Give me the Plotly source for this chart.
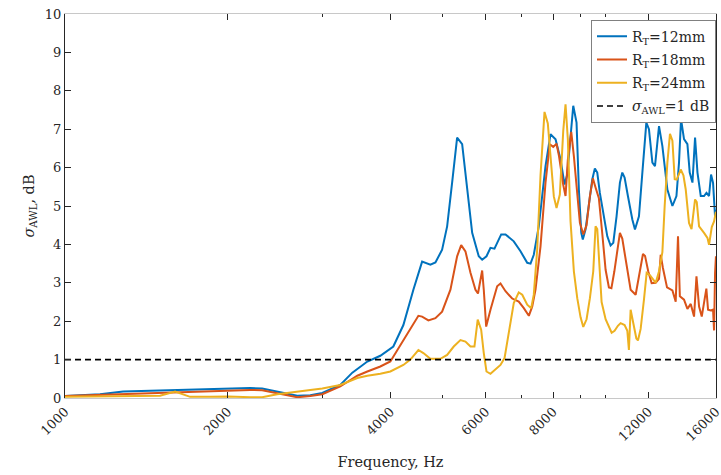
import plotly.graph_objects as go

# ---------------- data (frequency in Hz, sigma_AWL in dB) ----------------
freq_12 = [1000, 1161, 1281, 1437, 1704, 2004, 2201, 2316, 2469, 2610, 2689, 2843, 2992, 3230, 3400,
           3625, 3831, 4049, 4226, 4410, 4577, 4741, 4844, 4984, 5092, 5201, 5313, 5428, 5545, 5665,
           5826, 5911, 6021, 6124, 6229, 6410, 6529, 6763, 6960, 7162, 7263, 7365, 7523, 7742, 7909,
           8080, 8254, 8395, 8493, 8713, 8836, 8924, 9016, 9075, 9182, 9313, 9448, 9553, 9651, 9758,
           9928, 10073, 10215, 10333, 10478, 10629, 10737, 10843, 10997, 11125, 11206, 11332, 11527,
           11695, 11895, 12028, 12205, 12341, 12555, 12736, 13010, 13292, 13522, 13671, 13789, 13966,
           14169, 14309, 14476, 14638, 14789, 14997, 15209, 15365, 15536, 15670, 15804, 15940, 16054]
sigma_12 = [0.05, 0.10, 0.17, 0.19, 0.21, 0.24, 0.26, 0.25, 0.17, 0.10, 0.06, 0.07, 0.13, 0.34, 0.66,
            0.95, 1.10, 1.34, 1.90, 2.82, 3.55, 3.47, 3.53, 3.86, 4.47, 5.61, 6.78, 6.61, 5.43, 4.30,
            3.69, 3.60, 3.69, 3.91, 3.89, 4.26, 4.26, 4.08, 3.82, 3.52, 3.50, 3.73, 4.47, 6.04, 6.87,
            6.74, 6.21, 5.56, 5.82, 7.61, 7.17, 5.43, 4.30, 4.13, 4.39, 4.99, 5.69, 5.98, 5.87, 5.34,
            4.73, 4.21, 3.97, 4.04, 4.73, 5.61, 5.87, 5.74, 5.26, 4.82, 4.65, 4.39, 4.73,
            5.87, 7.17, 7.00, 6.13, 6.04, 7.08, 6.56, 5.43, 5.00, 5.26, 6.13, 7.26, 6.74,
            6.61, 5.87, 5.61, 6.78, 5.87, 5.26, 5.26, 5.34, 5.26, 5.82, 5.60, 4.73, 4.90]

freq_18 = [1000, 1161, 1281, 1499, 1704, 2004, 2201, 2316, 2469, 2610, 2689, 2843, 2992, 3230, 3473,
           3625, 3831, 3998, 4226, 4410, 4505, 4577, 4701, 4844, 4984, 5164, 5313, 5406, 5505, 5624,
           5745, 5807, 5911, 5952, 6013, 6124, 6301, 6391, 6529, 6717, 6908, 7059, 7211, 7315, 7419,
           7579, 7742, 7885, 8001, 8114, 8200, 8349, 8431, 8514, 8639, 8736, 8836, 8963, 9093, 9222,
           9353, 9472, 9581, 9718, 9852, 10000, 10142, 10250, 10380, 10511, 10629, 10737, 10936,
           11125, 11366, 11527, 11725, 11830, 11990, 12168, 12379, 12555, 12644, 12760, 12990, 13292,
           13480, 13613, 13720, 13966, 14169, 14371, 14576, 14726, 14890, 15062, 15260, 15360, 15470,
           15650, 15804, 15872, 15940, 16000]
sigma_18 = [0.05, 0.08, 0.10, 0.12, 0.16, 0.19, 0.21, 0.20, 0.12, 0.05, 0.02, 0.05, 0.10, 0.30, 0.58,
            0.69, 0.82, 0.95, 1.51, 1.95, 2.14, 2.12, 2.02, 2.08, 2.25, 2.82, 3.69, 3.98, 3.82, 3.26,
            2.82, 2.72, 3.32, 2.82, 1.86, 2.30, 2.91, 2.98, 2.78, 2.59, 2.51, 2.34, 2.14, 2.38, 2.82,
            3.95, 5.61, 6.61, 6.54, 6.62, 6.30, 5.55, 5.26, 6.20, 6.93, 6.30, 5.43, 4.56, 4.26, 4.50,
            5.26, 5.72, 5.48, 5.20, 4.33, 3.34, 2.88, 2.86, 3.30, 3.90, 4.30, 4.15, 3.45,
            2.82, 2.69, 3.17, 3.75, 3.70, 3.30, 2.99, 3.00, 3.10, 3.73, 3.40, 2.88, 2.80,
            2.51, 4.21, 2.65, 2.56, 2.32, 2.45, 2.12, 3.17, 2.38, 2.12, 2.56, 2.85, 2.30,
            2.28, 2.30, 1.76, 3.26, 3.69]

freq_24 = [1000, 1161, 1281, 1437, 1499, 1598, 1704, 1856, 2004, 2201, 2316, 2469, 2610, 2689, 2843,
           2992, 3230, 3473, 3625, 3831, 3998, 4226, 4354, 4505, 4602, 4741, 4948, 5092, 5237, 5389,
           5505, 5624, 5720, 5800, 5886, 5952, 6021, 6124, 6256, 6391, 6502, 6621, 6763, 6908, 7011,
           7162, 7284, 7365, 7472, 7579, 7709, 7818, 7933, 8021, 8114, 8229, 8349, 8431, 8514, 8613,
           8736, 8863, 8989, 9093, 9222, 9353, 9488, 9581, 9651, 9746, 9831, 10000, 10142, 10260,
           10390, 10538, 10660, 10843, 10970, 11044, 11125, 11254, 11400, 11478, 11610, 11775, 11911,
           12079, 12205, 12379, 12555, 12736, 12861, 13010, 13155, 13292, 13423, 13538, 13771, 13930,
           14067, 14266, 14420, 14638, 14745, 14890, 15209, 15431, 15536, 15717, 15872, 16000]
sigma_24 = [0.03, 0.04, 0.04, 0.05, 0.06, 0.17, 0.03, 0.03, 0.04, 0.02, 0.02, 0.10, 0.15, 0.17, 0.21,
            0.25, 0.34, 0.52, 0.58, 0.63, 0.69, 0.86, 1.00, 1.25, 1.17, 1.02, 1.02, 1.12, 1.34, 1.51,
            1.47, 1.34, 1.34, 2.04, 1.78, 1.17, 0.69, 0.63, 0.75, 0.86, 1.04, 1.69, 2.47, 2.75, 2.69,
            2.43, 2.34, 2.69, 3.86, 5.80, 7.45, 7.15, 6.10, 5.25, 4.95, 5.30, 6.95, 7.65, 6.74, 4.60,
            3.30, 2.60, 2.10, 1.85, 2.05, 2.60, 3.30, 4.47, 4.40, 3.30, 2.50, 2.05, 1.85, 1.70,
            1.75, 1.88, 1.95, 1.90, 1.75, 1.25, 2.30, 1.90, 1.55, 1.50, 1.80, 2.56, 3.26,
            3.20, 3.10, 3.00, 3.30, 3.80, 5.00, 6.13, 6.88, 6.70, 5.70, 5.69, 5.95, 5.80,
            5.43, 4.56, 4.40, 5.17, 5.10, 4.47, 4.30, 4.17, 3.99, 4.45, 4.60, 4.85]

threshold_db = 1.0
freq_limits = [1000, 16000]

series_names = ["R<sub>T</sub>=12mm", "R<sub>T</sub>=18mm", "R<sub>T</sub>=24mm"]
threshold_name = "<i>σ</i><sub>AWL</sub>=1 dB"

x_major_ticks = [1000, 2000, 4000, 6000, 8000, 12000, 16000]
x_minor_ticks = [3000, 5000, 7000, 9000, 10000]
y_ticks = list(range(0, 11))

colors = ["#0072BD", "#D95319", "#EDB120"]
FONT = "DejaVu Serif"

fig = go.Figure()
for i, (fx, fy, name, col) in enumerate(zip([freq_12, freq_18, freq_24], [sigma_12, sigma_18, sigma_24],
                                            series_names, colors)):
    fig.add_trace(go.Scatter(x=fx, y=fy, mode="lines", name=name, legendgroup=f"g{i}",
                             line=dict(color=col, width=2)))

fig.add_trace(go.Scatter(x=freq_limits, y=[threshold_db, threshold_db], mode="lines",
                         name=threshold_name, legendgroup="g3",
                         line=dict(color="black", width=1.6, dash="6px,4px")))

fig.update_layout(
    width=721, height=475,
    margin=dict(l=65, r=5, t=14, b=77),
    paper_bgcolor="white", plot_bgcolor="white",
    font=dict(family=FONT, size=13, color="#262626"),
    showlegend=True,
    legend=dict(x=1, xanchor="right", y=0.985, yanchor="top",
                bgcolor="white", bordercolor="#808080", borderwidth=1,
                font=dict(family=FONT, size=14, color="#262626"),
                itemwidth=30, traceorder="grouped", tracegroupgap=2),
)

fig.update_xaxes(
    type="log", range=[3, 4.20422], automargin=False,
    tickmode="array", tickvals=x_major_ticks, ticktext=[str(v) for v in x_major_ticks],
    tickangle=-45, ticks="inside", ticklen=6, tickcolor="#262626", tickwidth=1,
    ticklabeloverflow="allow",
    minor=dict(tickmode="array", tickvals=x_minor_ticks, ticks="inside", ticklen=3,
               tickcolor="#262626", tickwidth=1, showgrid=False),
    showline=True, linecolor="#c8c8c8", linewidth=1, mirror="ticks",
    showgrid=False, zeroline=False,
    tickfont=dict(family=FONT, size=13, color="#262626"),
    title=dict(text="Frequency, Hz", font=dict(family=FONT, size=14.5, color="#262626"),
               standoff=13),
)

fig.update_yaxes(
    range=[0, 10], tickmode="array", tickvals=y_ticks, automargin=False,
    ticks="inside", ticklen=6, tickcolor="#262626", tickwidth=1,
    showline=True, linecolor="#262626", linewidth=1, mirror="ticks",
    showgrid=False, zeroline=False,
    tickfont=dict(family=FONT, size=13, color="#262626"),
    title=dict(text="<i>σ</i><sub>AWL</sub>, dB", font=dict(family=FONT, size=14.5, color="#262626"),
               standoff=6),
)

fig.write_html("out.html")
